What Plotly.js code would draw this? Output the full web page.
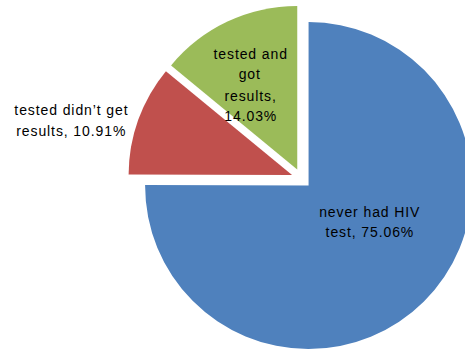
<!DOCTYPE html>
<html>
<head>
<meta charset="utf-8">
<script src="https://cdn.plot.ly/plotly-3.0.1.min.js"></script>
<style>
html,body{margin:0;padding:0;overflow:hidden;background:#fff;width:465px;height:351px;}
#chart{width:480px;height:352px;}
#chart .annotation-text{letter-spacing:0.9px;}
</style>
</head>
<body>
<div id="chart"></div>
<script>
// Data
const categories = ["never had HIV test", "tested didn\u2019t get results", "tested and got results"];
const values = [75.06, 10.91, 14.03];
const colors = ["#4F81BD", "#C0504D", "#9BBB59"];

// label line-wrapping (display)
const labelLines = [
  ["never had HIV", "test, " + values[0].toFixed(2) + "%"],
  ["tested didn\u2019t get", "results, " + values[1].toFixed(2) + "%"],
  ["tested and", "got", "results,", values[2].toFixed(2) + "%"]
];
// label centers in pixels (page coords)
const labelPos = [[370, 222], [71, 120], [250, 85]];

const L = 128, T = 5, W = 347, H = 347;
const lineGap = 21;
const annotations = [];
labelLines.forEach((lines, i) => {
  const [cx, cy] = labelPos[i];
  const n = lines.length;
  lines.forEach((t, j) => {
    const py = cy + (j - (n - 1) / 2) * lineGap;
    annotations.push({
      text: t, showarrow: false, xref: "paper", yref: "paper",
      x: (cx - L) / W, y: 1 - (py - T) / H, xanchor: "center", yanchor: "middle",
      font: {family: "Liberation Sans, Arial, sans-serif", size: 14, color: "#000"}
    });
  });
});

const trace = {
  type: "pie",
  labels: categories,
  values: values,
  sort: false,
  direction: "clockwise",
  rotation: 0,
  pull: [0.0613, 0.0613, 0.0613],
  marker: {colors: colors, line: {width: 0}},
  textinfo: "none",
  hoverinfo: "label+percent",
  showlegend: false
};

Plotly.newPlot("chart", [trace], {
  width: 480, height: 352,
  margin: {l: L, r: 480 - L - W, t: T, b: 352 - T - H, pad: 0},
  paper_bgcolor: "#fff",
  showlegend: false,
  annotations: annotations
}, {staticPlot: true, displayModeBar: false});
</script>
</body>
</html>
